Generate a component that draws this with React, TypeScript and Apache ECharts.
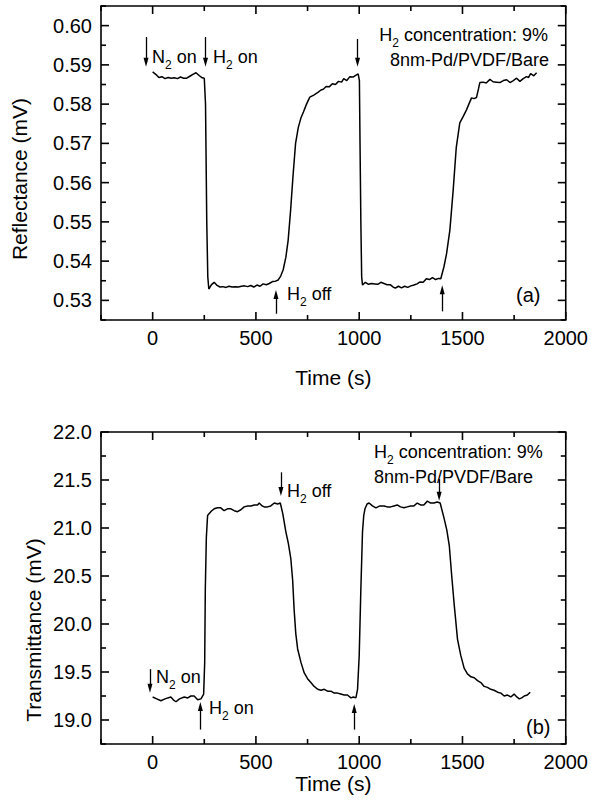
import React, { useEffect, useRef } from "react";
import * as echarts from "echarts";

const FONT = "'Liberation Sans', Arial, Helvetica, sans-serif";

// ---- Top panel (a): Reflectance ----
const timeA = [0, 15, 30, 45, 60, 75, 90, 105, 120, 135, 150, 165, 180, 195, 210, 225, 240, 250, 256, 262, 267, 272, 285, 298, 312, 326, 340, 355, 370, 385, 400, 415, 430, 445, 460, 475, 490, 505, 520, 535, 550, 565, 580, 595, 608, 620, 632, 645, 656, 668, 680, 692, 705, 718, 730, 745, 761, 780, 800, 815, 826, 840, 855, 870, 885, 900, 915, 925, 940, 955, 970, 985, 995, 1001, 1004, 1008, 1012, 1016, 1030, 1045, 1060, 1075, 1090, 1105, 1120, 1135, 1150, 1165, 1175, 1190, 1205, 1220, 1235, 1250, 1265, 1280, 1295, 1310, 1325, 1340, 1355, 1370, 1385, 1395, 1410, 1423, 1439, 1455, 1470, 1487, 1505, 1520, 1535, 1544, 1556, 1568, 1578, 1584, 1600, 1615, 1633, 1648, 1665, 1681, 1698, 1714, 1730, 1746, 1762, 1778, 1794, 1810, 1820, 1830, 1845, 1859];
const reflectance = [0.5882, 0.5876, 0.5868, 0.587, 0.5865, 0.5868, 0.5866, 0.5867, 0.5865, 0.5869, 0.5866, 0.5866, 0.5871, 0.5876, 0.588, 0.5873, 0.5867, 0.5866, 0.58, 0.55, 0.536, 0.5329, 0.534, 0.5346, 0.5338, 0.5334, 0.5335, 0.5333, 0.5336, 0.5334, 0.5335, 0.5334, 0.5336, 0.5337, 0.5335, 0.5338, 0.5334, 0.5339, 0.5336, 0.5342, 0.534, 0.5343, 0.5348, 0.5349, 0.5352, 0.5362, 0.5378, 0.541, 0.5453, 0.553, 0.562, 0.57, 0.574, 0.5765, 0.578, 0.58, 0.5818, 0.5823, 0.583, 0.5836, 0.5838, 0.5845, 0.5844, 0.5852, 0.585, 0.5858, 0.5856, 0.5865, 0.586, 0.587, 0.5869, 0.5874, 0.5877, 0.586, 0.57, 0.55, 0.536, 0.5339, 0.5346, 0.5341, 0.5343, 0.5342, 0.5341, 0.5346, 0.5343, 0.534, 0.534, 0.5334, 0.5331, 0.5336, 0.5332, 0.5336, 0.5333, 0.5337, 0.5339, 0.5342, 0.5347, 0.5346, 0.5355, 0.5353, 0.5358, 0.5353, 0.5356, 0.5355, 0.5385, 0.5419, 0.5479, 0.5581, 0.569, 0.5752, 0.577, 0.5786, 0.5805, 0.5816, 0.5814, 0.5817, 0.584, 0.5855, 0.5856, 0.5854, 0.5863, 0.5857, 0.5856, 0.5855, 0.586, 0.5862, 0.5855, 0.586, 0.5866, 0.5858, 0.5865, 0.587, 0.5868, 0.5878, 0.5872, 0.588];

// ---- Bottom panel (b): Transmittance ----
const timeB = [0, 20, 40, 60, 88, 100, 113, 130, 153, 170, 185, 201, 218, 234, 247, 252, 255, 260, 266, 274, 286, 298, 314, 330, 346, 362, 379, 395, 411, 427, 443, 460, 476, 492, 508, 516, 530, 540, 556, 572, 589, 605, 618, 630, 645, 657, 669, 678, 685, 693, 702, 718, 734, 750, 766, 782, 799, 815, 831, 847, 863, 879, 895, 911, 927, 943, 960, 972, 984, 992, 1000, 1008, 1016, 1022, 1028, 1038, 1048, 1064, 1081, 1100, 1120, 1136, 1152, 1168, 1184, 1200, 1217, 1233, 1249, 1265, 1281, 1297, 1313, 1330, 1346, 1362, 1378, 1392, 1411, 1424, 1436, 1448, 1460, 1476, 1492, 1508, 1524, 1541, 1557, 1573, 1589, 1605, 1621, 1637, 1653, 1670, 1686, 1702, 1718, 1734, 1750, 1763, 1775, 1787, 1799, 1814, 1828];
const transmittance = [19.24, 19.22, 19.2, 19.22, 19.24, 19.21, 19.19, 19.22, 19.24, 19.23, 19.25, 19.25, 19.21, 19.22, 19.27, 19.6, 20.36, 20.9, 21.13, 21.15, 21.18, 21.2, 21.21, 21.21, 21.18, 21.2, 21.2, 21.18, 21.17, 21.19, 21.22, 21.23, 21.23, 21.24, 21.24, 21.26, 21.23, 21.22, 21.22, 21.23, 21.26, 21.25, 21.26, 21.15, 20.96, 20.84, 20.68, 20.45, 20.15, 19.9, 19.74, 19.6, 19.49, 19.43, 19.39, 19.35, 19.32, 19.31, 19.32, 19.3, 19.3, 19.28, 19.28, 19.27, 19.26, 19.26, 19.23, 19.24, 19.23, 19.32, 19.67, 20.36, 20.96, 21.13, 21.2, 21.25, 21.26, 21.23, 21.21, 21.23, 21.23, 21.22, 21.22, 21.23, 21.24, 21.22, 21.21, 21.22, 21.23, 21.23, 21.26, 21.24, 21.24, 21.28, 21.26, 21.26, 21.27, 21.26, 21.1, 20.98, 20.82, 20.5, 20.2, 19.84, 19.67, 19.54, 19.48, 19.45, 19.44, 19.41, 19.39, 19.35, 19.34, 19.32, 19.31, 19.29, 19.28, 19.25, 19.26, 19.24, 19.27, 19.24, 19.22, 19.23, 19.25, 19.26, 19.29];

// ---- Axis ranges and ticks ----
const xRange = [-250, 2000];
const yRangeA = [0.525, 0.605];
const yRangeB = [18.75, 22.0];
const xMajor = [0, 500, 1000, 1500, 2000];
const xMinor = [-250, 250, 750, 1250, 1750];
const yMajorA = [0.53, 0.54, 0.55, 0.56, 0.57, 0.58, 0.59, 0.6];
const yMinorA = [0.525, 0.535, 0.545, 0.555, 0.565, 0.575, 0.585, 0.595, 0.605];
const yMajorB = [19.0, 19.5, 20.0, 20.5, 21.0, 21.5, 22.0];
const yMinorB = [18.75, 19.25, 19.75, 20.25, 20.75, 21.25, 21.75];

// ---- Arrow annotations: [time, from, to] ----
const arrowsA = [
  [-32, 0.5971, 0.5907],
  [256, 0.5971, 0.5907],
  [992, 0.5966, 0.5907],
  [597, 0.5266, 0.5315],
  [1402, 0.5272, 0.5327],
];
const arrowsB = [
  [-13, 19.53, 19.33],
  [231, 18.9, 19.14],
  [621, 21.58, 21.38],
  [1387, 21.51, 21.33],
  [976, 18.9, 19.12],
];

const BLACK = "#000";

function xAxis(gridIndex: number, nameGap: number) {
  return {
    type: "value",
    gridIndex,
    min: xRange[0],
    max: xRange[1],
    position: "bottom",
    splitLine: { show: false },
    axisLine: { show: false, onZero: false },
    axisTick: { show: false },
    axisLabel: {
      show: true,
      customValues: xMajor,
      fontSize: 20,
      color: BLACK,
      fontFamily: FONT,
      margin: 8,
      formatter: (v: number) => String(Math.round(v)),
    },
    name: "Time (s)",
    nameLocation: "middle",
    nameGap,
    nameTextStyle: { fontSize: 21, color: BLACK, fontFamily: FONT },
  };
}

function yAxis(gridIndex: number, range: number[], major: number[], digits: number) {
  return {
    type: "value",
    gridIndex,
    min: range[0],
    max: range[1],
    position: "left",
    splitLine: { show: false },
    axisLine: { show: false, onZero: false },
    axisTick: { show: false },
    axisLabel: {
      show: true,
      customValues: major,
      fontSize: 20,
      color: BLACK,
      fontFamily: FONT,
      margin: 9,
      formatter: (v: number) => v.toFixed(digits),
    },
  };
}

// Tick marks on all four sides, drawn through the axes' own scales.
function tickSeries(axisIndex: number, yRange: number[], yMajor: number[], yMinor: number[]) {
  const data: number[][] = [];
  xMajor.forEach((v) => data.push([v, yRange[0], 0]));
  xMinor.forEach((v) => data.push([v, yRange[0], 1]));
  yMajor.forEach((v) => data.push([xRange[0], v, 2]));
  yMinor.forEach((v) => data.push([xRange[0], v, 3]));
  return {
    type: "custom",
    xAxisIndex: axisIndex,
    yAxisIndex: axisIndex,
    silent: true,
    clip: false,
    z: 5,
    encode: { x: 0, y: 1 },
    data,
    renderItem: (_p: any, api: any) => {
      const kind = api.value(2);
      const len = kind === 0 || kind === 2 ? 8 : 5;
      const st = () => ({ stroke: "#000000", lineWidth: 1.6 });
      if (kind < 2) {
        const v = api.value(0);
        const b = api.coord([v, yRange[0]]);
        const t = api.coord([v, yRange[1]]);
        return {
          type: "group",
          children: [
            { type: "line", shape: { x1: b[0], y1: b[1], x2: b[0], y2: b[1] - len }, style: st() },
            { type: "line", shape: { x1: t[0], y1: t[1], x2: t[0], y2: t[1] + len }, style: st() },
          ],
        };
      }
      const v = api.value(1);
      const l = api.coord([xRange[0], v]);
      const r = api.coord([xRange[1], v]);
      return {
        type: "group",
        children: [
          { type: "line", shape: { x1: l[0], y1: l[1], x2: l[0] + len, y2: l[1] }, style: st() },
          { type: "line", shape: { x1: r[0], y1: r[1], x2: r[0] - len, y2: r[1] }, style: st() },
        ],
      };
    },
  };
}

function arrowLines(arrows: number[][]) {
  return {
    silent: true,
    animation: false,
    label: { show: false },
    lineStyle: { color: BLACK, width: 1.3, type: "solid" },
    emphasis: { disabled: true },
    symbol: ["none", "triangle"],
    symbolSize: [0, 8],
    data: arrows.map(([t, a, b]) => [
      { coord: [t, a], symbol: "none" },
      { coord: [t, b], symbol: "triangle", symbolSize: [5, 9] },
    ]),
  };
}

const rich = {
  n: { fontSize: 18, fontFamily: FONT, color: BLACK, lineHeight: 27 },
  s: { fontSize: 12, fontFamily: FONT, color: BLACK, lineHeight: 13, verticalAlign: "bottom" },
};

function label(text: string, x: number, y: number, align = "left") {
  return {
    type: "text",
    x,
    y,
    silent: true,
    style: { text, rich, align, verticalAlign: "middle", fill: BLACK, font: `18px ${FONT}` },
  };
}

function plain(text: string, x: number, y: number, size: number, align = "left", rotation = 0) {
  return {
    type: "text",
    x,
    y,
    rotation,
    silent: true,
    style: { text, align, verticalAlign: "middle", fill: BLACK, fontSize: size, fontFamily: FONT },
  };
}

export default function App() {
  const ref = useRef<HTMLDivElement>(null);
  useEffect(() => {
    if (!ref.current) return;
    const chart = echarts.init(ref.current, null, { renderer: "svg" });
    const option = {
      animation: false,
      backgroundColor: "#fff",
      textStyle: { fontFamily: FONT },
      grid: [
        { left: 101, top: 6, width: 465, height: 314, show: true, borderColor: BLACK, borderWidth: 1.6, backgroundColor: "transparent" },
        { left: 101, top: 432, width: 465, height: 312, show: true, borderColor: BLACK, borderWidth: 1.6, backgroundColor: "transparent" },
      ],
      xAxis: [xAxis(0, 47), xAxis(1, 12)],
      yAxis: [yAxis(0, yRangeA, yMajorA, 2), yAxis(1, yRangeB, yMajorB, 1)],
      series: [
        tickSeries(0, yRangeA, yMajorA, yMinorA),
        tickSeries(1, yRangeB, yMajorB, yMinorB),
        {
          type: "line",
          xAxisIndex: 0,
          yAxisIndex: 0,
          data: timeA.map((t, i) => [t, reflectance[i]]),
          showSymbol: false,
          symbol: "none",
          lineStyle: { color: BLACK, width: 1.5 },
          markLine: arrowLines(arrowsA),
        },
        {
          type: "line",
          xAxisIndex: 1,
          yAxisIndex: 1,
          data: timeB.map((t, i) => [t, transmittance[i]]),
          showSymbol: false,
          symbol: "none",
          lineStyle: { color: BLACK, width: 1.5 },
          markLine: arrowLines(arrowsB),
        },
      ],
      graphic: [
        plain("Reflectance (mV)", 19, 179, 21, "center", Math.PI / 2),
        plain("Transmittance (mV)", 33, 630, 21, "center", Math.PI / 2),
        // panel (a)
        label("{n|N}{s|2}{n| on}", 152, 57),
        label("{n|H}{s|2}{n| on}", 213, 57),
        label("{n|H}{s|2}{n| concentration: 9%}", 548, 35, "right"),
        plain("8nm-Pd/PVDF/Bare", 549, 60, 18, "right"),
        label("{n|H}{s|2}{n| off}", 287, 294),
        plain("(a)", 516, 295, 20),
        // panel (b)
        label("{n|N}{s|2}{n| on}", 156, 677),
        label("{n|H}{s|2}{n| on}", 209, 708),
        label("{n|H}{s|2}{n| off}", 287, 491),
        label("{n|H}{s|2}{n| concentration: 9%}", 374, 452),
        plain("8nm-Pd/PVDF/Bare", 374, 477, 18),
        plain("(b)", 526, 727, 20),
      ],
    };
    chart.setOption(option as any);
    return () => chart.dispose();
  }, []);
  return (
    <div
      ref={ref}
      style={{ position: "absolute", left: 0, top: 0, width: 591, height: 808, background: "#fff" }}
    />
  );
}
